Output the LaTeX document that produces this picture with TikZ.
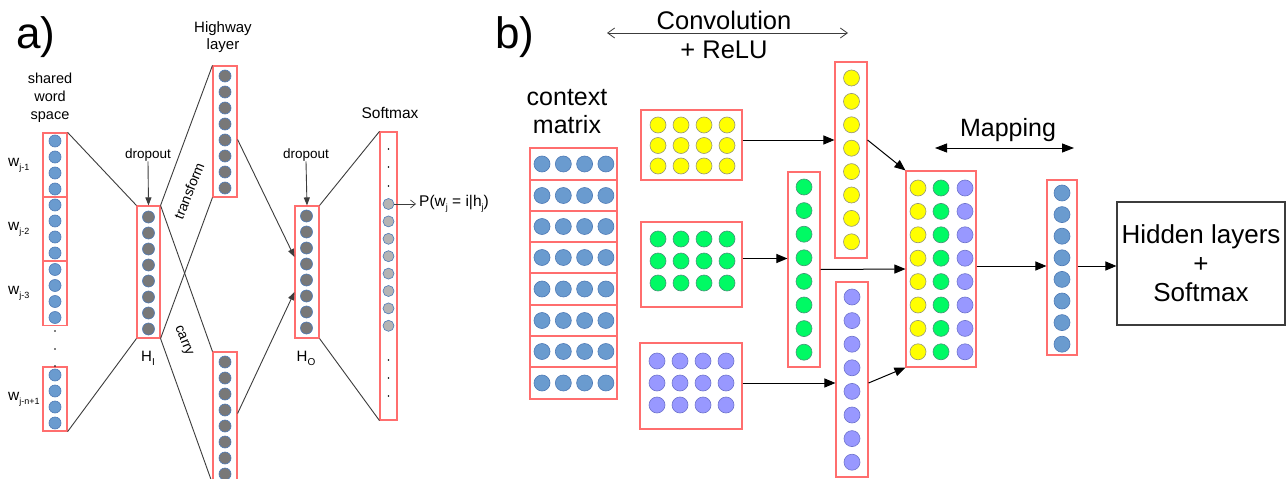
\documentclass[tikz,border=0pt]{standalone}
\usepackage{fontspec}
\setmainfont{Liberation Sans}
\usetikzlibrary{arrows.meta,calc}
\definecolor{boxred}{RGB}{255,110,110}
\definecolor{cblue}{RGB}{106,155,207}
\definecolor{cblueo}{RGB}{78,122,182}
\definecolor{cdark}{RGB}{120,120,120}
\definecolor{clight}{RGB}{180,180,180}
\definecolor{cyel}{RGB}{255,255,0}
\definecolor{cyelo}{RGB}{150,150,120}
\definecolor{cgreen}{RGB}{0,250,100}
\definecolor{cgreeno}{RGB}{70,150,120}
\definecolor{cpurp}{RGB}{152,152,255}
\definecolor{cpurpo}{RGB}{110,115,205}
\definecolor{linegray}{RGB}{60,60,60}
\newcommand\fs[2]{\fontsize{#1}{#2}\selectfont}
\newcommand\lowsub[2][9]{\raisebox{-0.5ex}{\fs{#1}{#1}#2}}
\begin{document}
\begin{tikzpicture}[x=1pt,y=-1pt,
  redbox/.style={draw=boxred,line width=1.1pt,fill=white,inner sep=0pt},
  rowbox/.style={draw=boxred,line width=1.2pt,fill=none,inner sep=0pt},
  bx/.style={draw=linegray,line width=1.1pt,inner sep=0pt,align=center},
  lbl/.style={inner sep=0pt,align=center},
  link/.style={draw=linegray,line width=0.9pt},
  larr/.style={link,-{Triangle[length=8pt,width=6pt]}},
  barr/.style={draw=black,line width=1pt,-{Triangle[length=11pt,width=9pt]}},
  blue ball/.style={fill=cblue,draw=cblueo,line width=0.6pt},
  dark ball/.style={fill=cdark,draw=cblueo,line width=0.6pt},
  light ball/.style={fill=clight,draw=cblueo,line width=0.6pt},
  yel ball/.style={fill=cyel,draw=cyelo,line width=0.6pt},
  grn ball/.style={fill=cgreen,draw=cgreeno,line width=0.6pt},
  pur ball/.style={fill=cpurp,draw=cpurpo,line width=0.6pt}]
\useasboundingbox (0,0) rectangle (1286,479);
\fill[white] (0,0) rectangle (1286,479);

% ---------------- a) highway network ----------------
\node[lbl,font=\fs{44}{44}] (ta) at (36,37) {a)};
\node[lbl,font=\fs{14.5}{18}] (sws) at (50,98) {shared\\word\\space};

% word-space blocks
\foreach \n/\cy in {e1/165,e2/229,e3/293.5,e4/399}{
  \node[rowbox,minimum width=24pt,minimum height=64pt] (\n) at (55,\cy) {};
  \foreach \o in {-24,-8,8,24} \draw[blue ball] (55,\cy+\o) circle[radius=6pt];
}
\foreach \y in {331,349,366} \fill (55,\y) circle[radius=0.9pt];
\node[lbl,anchor=west,font=\fs{15.5}{15}] (w1) at (8,165) {w\lowsub{j-1}};
\node[lbl,anchor=west,font=\fs{15.5}{15}] (w2) at (8,229) {w\lowsub{j-2}};
\node[lbl,anchor=west,font=\fs{15.5}{15}] (w3) at (8,293) {w\lowsub{j-3}};
\node[lbl,anchor=west,font=\fs{15.5}{15}] (w4) at (8,399) {w\lowsub{j-n+1}};

% H_I layer
\node[redbox,minimum width=23pt,minimum height=132pt] (hi) at (148.5,272) {};
\foreach \k in {0,...,7} \draw[dark ball] (148.5,{217+16*\k}) circle[radius=6pt];
\node[lbl,font=\fs{13.5}{13}] (d1) at (148,155) {dropout};
\node[lbl,font=\fs{15}{15}] (hil) at (148,358) {H\lowsub[10]{I}};

% highway layer: transform and carry
\node[lbl,font=\fs{15}{17}] (hw) at (223,37) {Highway\\layer};
\node[redbox,minimum width=24pt,minimum height=131pt] (tr) at (225,131.5) {};
\foreach \k in {0,...,7} \draw[dark ball] (225,{76+16*\k}) circle[radius=6pt];
\node[redbox,minimum width=24pt,minimum height=131pt] (ca) at (225,417.5) {};
\foreach \k in {0,...,7} \draw[dark ball] (225,{362+16*\k}) circle[radius=6pt];
\node[lbl,font=\fs{14}{14},rotate=68] (trl) at (189,191) {transform};
\node[lbl,font=\fs{14}{14},rotate=-68] (cal) at (183,341) {carry};

% H_O layer
\node[redbox,minimum width=24pt,minimum height=132pt] (ho) at (307,272) {};
\foreach \k in {0,...,7} \draw[dark ball] (306.5,{216+16*\k}) circle[radius=6pt];
\node[lbl,font=\fs{13.5}{13}] (d2) at (306,155) {dropout};
\node[lbl,font=\fs{15}{15}] (hol) at (306,358) {H\lowsub[10]{O}};

% softmax layer
\node[lbl,font=\fs{15.5}{15}] (sml) at (390,113) {Softmax};
\node[redbox,minimum width=17pt,minimum height=288pt] (sm) at (388.5,276) {};
\foreach \y in {149,167,186,360,378,396} \fill (388.5,\y) circle[radius=0.9pt];
\node[light ball,circle,minimum size=11pt,inner sep=0pt] (s1) at (388.5,204) {};
\foreach \k in {1,...,7} \draw[light ball] (388.5,{204+17.4*\k}) circle[radius=5.5pt];
\node[lbl,anchor=west,font=\fs{15.5}{15}] (pl) at (419,204) {P(w\lowsub{j} = i|h\lowsub{j})};

% connections
\draw[link] (e1.north east) -- (hi.north west);
\draw[link] (e4.south east) -- (hi.south west);
\draw[link] (hi.north east) -- (tr.north west);
\draw[link] (hi.south east) -- (tr.south west);
\draw[link] (hi.north east) -- (ca.north west);
\draw[link] (hi.south east) -- (ca.south west);
\draw[larr] ([yshift=-8pt]tr.east) -- ([yshift=15pt]ho.west);
\draw[larr] ([yshift=4pt]ca.east) -- ([yshift=-20pt]ho.west);
\draw[link] (ho.north east) -- (sm.north west);
\draw[link] (ho.south east) -- (sm.south west);
\draw[larr] (d1.south) -- (hi.north);
\draw[larr] (d2.south) -- (ho.north);
\draw[link,line width=0.7pt,-{Straight Barb[length=5pt,width=8pt]}] (s1.east) -- ([xshift=-3pt]pl.west);

% ---------------- b) convolutional model ----------------
\node[lbl,font=\fs{44}{44}] (tb) at (515,37) {b)};
\node[lbl,font=\fs{25.5}{25}] (conv) at (724,20) {Convolution};
\node[lbl,font=\fs{25.5}{25}] (relu) at (724,50) {+ ReLU};
\coordinate (cl) at (607,33);
\coordinate (cr) at (848,33);
\draw[draw=linegray,line width=0.8pt,{Straight Barb[length=7pt,width=10pt]}-{Straight Barb[length=7pt,width=10pt]}] (cl) -- (cr);

% context matrix: one row box per word
\node[lbl,font=\fs{25}{28}] (ctx) at (567,112) {context\\matrix};
\foreach \k/\t/\b in {0/148/180,1/180/211,2/211/242,3/242/273,4/273/305,5/305/336,6/336/367,7/367/399}{
  \node[rowbox,minimum width=87pt,minimum height={(\b-\t)*1pt}] (cm\k) at (573.5,{(\t+\b)/2}) {};
  \foreach \j in {0,...,3} \draw[blue ball] ({542+21.3*\j},{(\t+\b)/2}) circle[radius=8pt];
}

% feature maps
\node[redbox,minimum width=101pt,minimum height=70pt] (yb) at (691.5,145) {};
\node[redbox,minimum width=101pt,minimum height=85pt] (gb) at (691.5,264.5) {};
\node[redbox,minimum width=102pt,minimum height=86pt] (pb) at (691,386) {};
\foreach \j in {0,...,3}{
  \foreach \i in {0,1,2}{
    \draw[yel ball] ({658+23*\j},{125+20.5*\i}) circle[radius=8pt];
    \draw[grn ball] ({658+23*\j},{239+22*\i}) circle[radius=8pt];
    \draw[pur ball] ({657+23*\j},{361+22*\i}) circle[radius=8pt];
  }
}

% pooled vectors
\node[redbox,minimum width=32pt,minimum height=196pt] (yv) at (851,160) {};
\node[redbox,minimum width=32pt,minimum height=195pt] (gv) at (804,269.5) {};
\node[redbox,minimum width=32pt,minimum height=195pt] (pv) at (852,379.5) {};
\foreach \k in {0,...,7}{
  \draw[yel ball] (851.5,{78+23.4*\k}) circle[radius=8pt];
  \draw[grn ball] (804,{187+23.6*\k}) circle[radius=8pt];
  \draw[pur ball] (852,{297+23.6*\k}) circle[radius=8pt];
}

% concatenation
\node[redbox,minimum width=70pt,minimum height=196pt] (mp) at (941,269) {};
\foreach \k in {0,...,7}{
  \draw[yel ball] (918,{188+23.4*\k}) circle[radius=8pt];
  \draw[grn ball] (941,{188+23.4*\k}) circle[radius=8pt];
  \draw[pur ball] (965,{188+23.4*\k}) circle[radius=8pt];
}
\node[lbl,font=\fs{25}{25}] (map) at (1008,130) {Mapping};
\coordinate (ml) at (935,148);
\coordinate (mr) at (1074,148);
\draw[line width=1pt,{Triangle[length=12pt,width=9pt]}-{Triangle[length=12pt,width=9pt]}] (ml) -- (mr);

% mapped vector and output block
\node[redbox,minimum width=30pt,minimum height=175pt] (bv) at (1062,267.5) {};
\foreach \k in {0,...,7} \draw[blue ball] (1062,{193+21.6*\k}) circle[radius=8pt];
\node[bx,minimum width=168pt,minimum height=123pt,font=\fs{26}{29}] (hb) at (1201,263.5) {Hidden layers\\+\\Softmax};

% arrows
\draw[barr] ([yshift=5pt]yb.east) -- ([yshift=5pt]yb.east -| yv.west);
\draw[barr] ([yshift=6pt]gb.east) -- ([yshift=6pt]gb.east -| gv.west);
\draw[barr] ([yshift=3pt]pb.east) -- ([yshift=3pt]pb.east -| pv.west);
\draw[barr] ([yshift=20pt]yv.east) -- (mp.north west);
\draw[barr] (gv.east) -- (mp.west);
\draw[barr] ([yshift=-3.5pt]pv.east) -- (mp.south west);
\draw[barr] ([yshift=3pt]mp.east) -- ([yshift=3pt]mp.east -| bv.west);
\draw[barr] ([yshift=1.5pt]bv.east) -- ([yshift=1.5pt]bv.east -| hb.west);
\end{tikzpicture}
\end{document}
